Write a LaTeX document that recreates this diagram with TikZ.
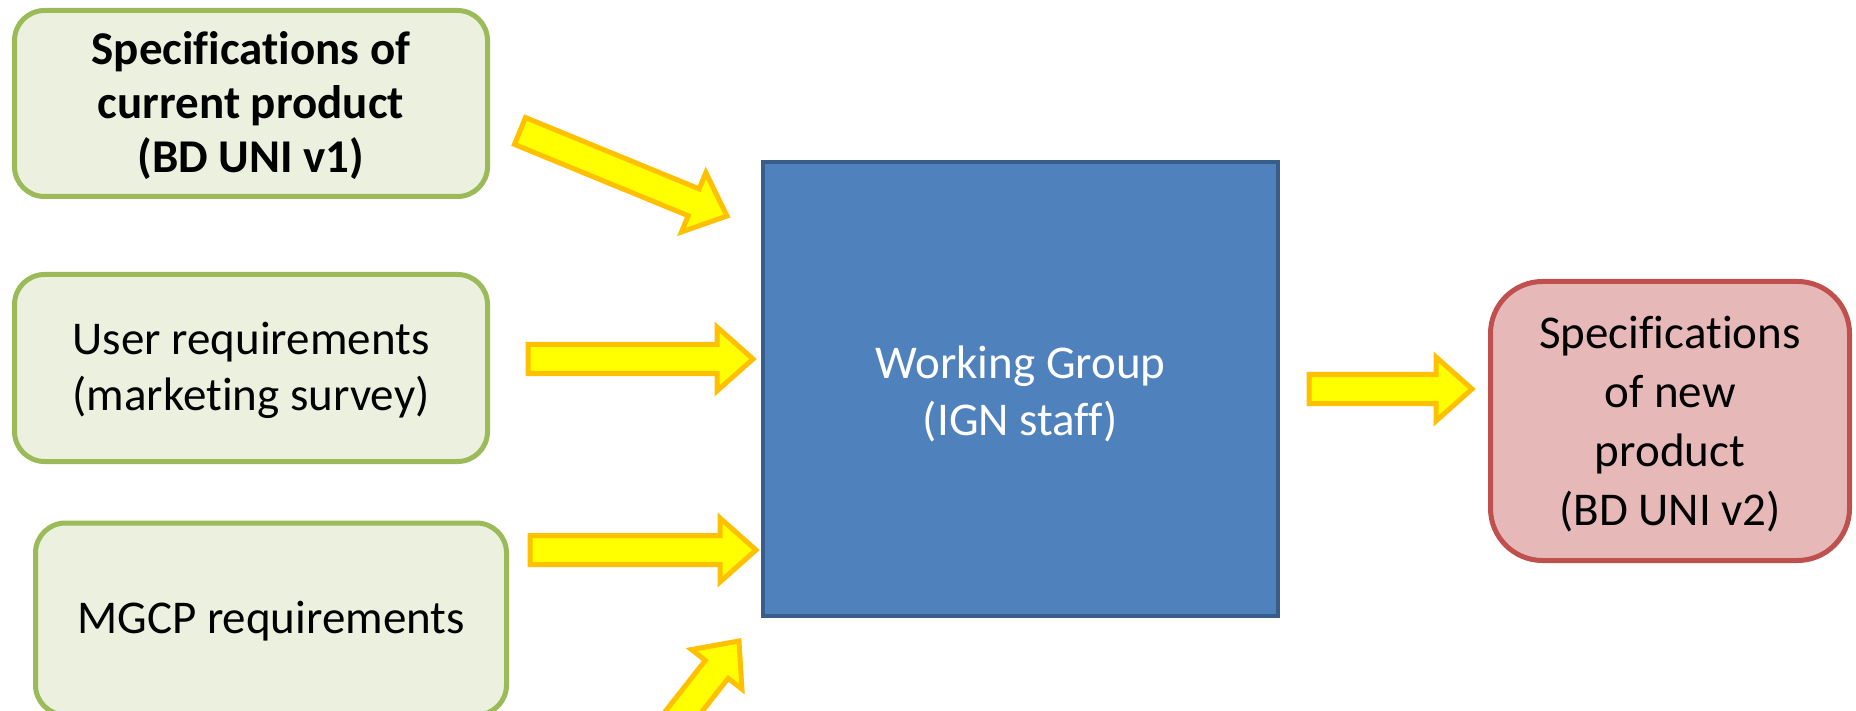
\documentclass[tikz,border=0pt]{standalone}
\usepackage{fontspec}
\setmainfont{Carlito}[Ligatures=NoCommon]
\usetikzlibrary{calc}
\definecolor{gfill}{HTML}{EBF1DE}
\definecolor{gline}{HTML}{9BBB59}
\definecolor{bfill}{HTML}{4F81BD}
\definecolor{bline}{HTML}{385D8A}
\definecolor{rfill}{HTML}{E6B9B8}
\definecolor{rline}{HTML}{C0504D}
\definecolor{ayellow}{HTML}{FFFF00}
\definecolor{aorange}{HTML}{FFC000}
\tikzset{
  txt/.style={align=center, text=black, inner sep=0pt},
  greenbox/.style={draw=gline, fill=gfill, line width=5pt, rounded corners=30pt, inner sep=0pt},
  bluebox/.style={draw=bline, fill=bfill, line width=4pt, inner sep=0pt},
  redbox/.style={draw=rline, fill=rfill, line width=5pt, rounded corners=52pt, inner sep=0pt},
  fatarrow/.style={draw=aorange, fill=ayellow, line width=5pt, line join=miter},
}
\newcommand\yellowarrow[2]{%
  \path (#1); \pgfgetlastxy{\yaX}{\yaY}%
  \path (#2); \pgfgetlastxy{\ybX}{\ybY}%
  \pgfmathsetmacro\yaAng{atan2(\ybY-\yaY,\ybX-\yaX)}%
  \pgfmathsetmacro\yaLen{veclen(\ybX-\yaX,\ybY-\yaY)}%
  \begin{scope}[shift={(#1)},rotate=\yaAng,x=1pt,y=1pt]
    \draw[fatarrow] (0,-14.5) -- (\yaLen-36,-14.5) -- (\yaLen-36,-32) -- (\yaLen,0)
      -- (\yaLen-36,32) -- (\yaLen-36,14.5) -- (0,14.5) -- cycle;
  \end{scope}}
\begin{document}
\begin{tikzpicture}[x=1pt,y=-1pt]
\clip (0,0) rectangle (1856,711);
\fill[white] (0,0) rectangle (1856,711);
% boxes
\node[greenbox, minimum width=473pt, minimum height=186pt,
  label={[txt, yshift=-2.5pt, font=\fontsize{47}{54}\selectfont\bfseries]center:{Specifications of\\current product\\(BD UNI v1)}}]
  (spec) at (251,103.5) {};
\node[greenbox, minimum width=473pt, minimum height=187pt,
  label={[txt, yshift=-2.5pt, font=\fontsize{47}{56}\selectfont]center:{User requirements\\(marketing survey)}}]
  (user) at (251,368) {};
\node[greenbox, minimum width=471pt, minimum height=192pt,
  label={[txt, yshift=-2.5pt, font=\fontsize{47}{56}\selectfont]center:{MGCP requirements}}]
  (mgcp) at (271,619) {};
\node[bluebox, minimum width=515pt, minimum height=454pt,
  label={[txt, text=white, yshift=-4.5pt, font=\fontsize{47}{57}\selectfont]center:{Working Group\\(IGN staff)}}]
  (wg) at (1020.5,389) {};
\node[redbox, minimum width=359pt, minimum height=279pt,
  label={[txt, yshift=-3.5pt, font=\fontsize{47}{59}\selectfont]center:{Specifications\\of new\\product\\(BD UNI v2)}}]
  (newspec) at (1670,421) {};
% arrow end points
\coordinate (a1s) at (520,131);  \coordinate (a1e) at (727,216);
\coordinate (a2s) at (528,359);  \coordinate (a2e) at (753,359);
\coordinate (a3s) at (530,550);  \coordinate (a3e) at (756,550);
\coordinate (a4s) at (600,818);  \coordinate (a4e) at (739,641);
\coordinate (a5s) at (1309,389); \coordinate (a5e) at (1472,389);
\yellowarrow{a1s}{a1e}
\yellowarrow{a2s}{a2e}
\yellowarrow{a3s}{a3e}
\yellowarrow{a4s}{a4e}
\yellowarrow{a5s}{a5e}
\end{tikzpicture}
\end{document}
